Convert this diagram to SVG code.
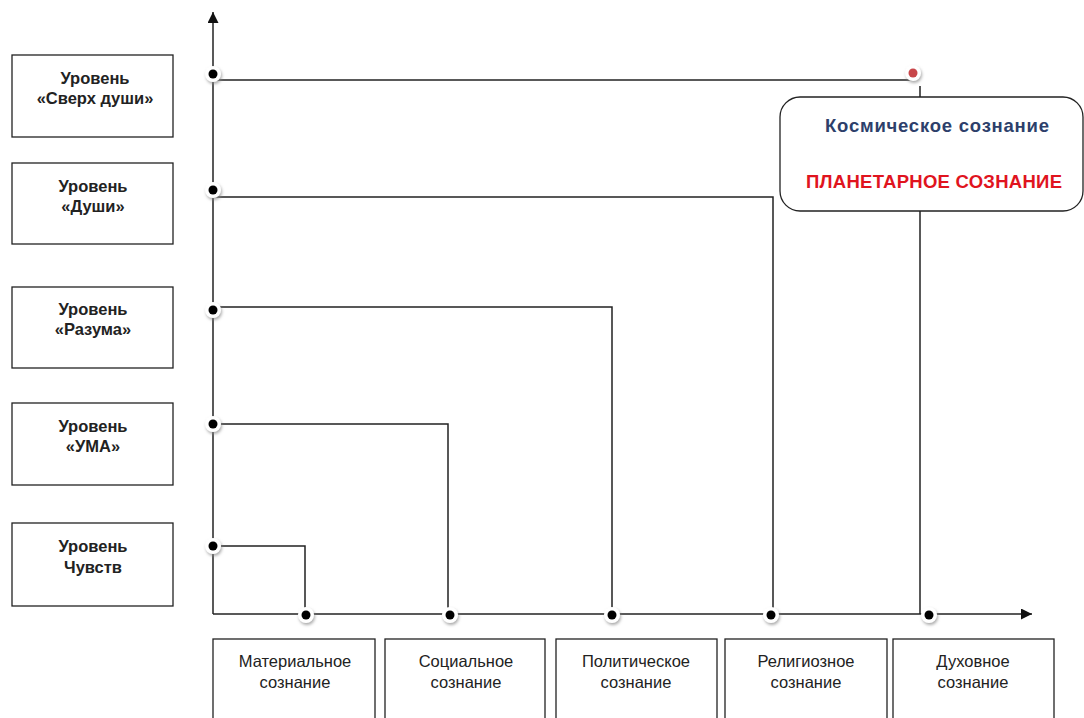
<svg xmlns="http://www.w3.org/2000/svg" width="1084" height="718" viewBox="0 0 1084 718">
<style>
.box{fill:#fff;stroke:#222;stroke-width:1.3}
.lt{font-family:"Liberation Sans",Arial,sans-serif;font-size:16.5px;font-weight:bold;fill:#222;text-anchor:middle}
.bt{font-family:"Liberation Sans",Arial,sans-serif;font-size:16.5px;fill:#222;text-anchor:middle}
.ln{fill:none;stroke:#222;stroke-width:1.5}
.ct{font-family:"Liberation Sans",Arial,sans-serif;font-size:18.5px;font-weight:bold;text-anchor:middle}
</style>
<defs>
<marker id="ah" viewBox="0 0 10 10" refX="10" refY="5" markerWidth="11" markerHeight="11" markerUnits="userSpaceOnUse" orient="auto">
<path d="M0,0 L10,5 L0,10 z" fill="#111"/>
</marker>
<filter id="sh" x="-50%" y="-50%" width="200%" height="200%">
<feGaussianBlur in="SourceAlpha" stdDeviation="1.5"/>
<feOffset dx="1" dy="2" result="b"/>
<feFlood flood-color="#888" flood-opacity="0.7"/>
<feComposite in2="b" operator="in"/>
<feMerge><feMergeNode/><feMergeNode in="SourceGraphic"/></feMerge>
</filter>
<g id="dot"><circle r="8" fill="#fff" filter="url(#sh)"/><circle r="4.5" fill="#000"/></g>
<g id="rdot"><circle r="8" fill="#fff" filter="url(#sh)"/><circle r="4.5" fill="#c8464a"/></g>
</defs>
<g id="connectors">
<line class="ln" x1="213" y1="614" x2="213" y2="12" marker-end="url(#ah)"/>
<line class="ln" x1="213" y1="614" x2="1032" y2="614" marker-end="url(#ah)"/>
<polyline class="ln" points="213,80 913,80"/>
<polyline class="ln" points="920,86 920,97"/>
<polyline class="ln" points="920,211 920,614"/>
<polyline class="ln" points="213,197 773,197 773,614"/>
<polyline class="ln" points="213,307 612,307 612,614"/>
<polyline class="ln" points="213,424 448,424 448,614"/>
<polyline class="ln" points="213,546 305,546 305,614"/>
</g>
<g id="dots">
<use href="#dot" x="213" y="74"/>
<use href="#dot" x="213" y="190"/>
<use href="#dot" x="213" y="310"/>
<use href="#dot" x="213" y="424"/>
<use href="#dot" x="213" y="546"/>
<use href="#dot" x="306" y="615"/>
<use href="#dot" x="450" y="615"/>
<use href="#dot" x="612" y="615"/>
<use href="#dot" x="771" y="615"/>
<use href="#dot" x="929" y="615"/>
<use href="#rdot" x="913" y="73"/>
</g>
<g id="level1"><rect class="box" x="12" y="55" width="161" height="82"/><text class="lt" x="95" y="84">Уровень</text><text class="lt" x="95" y="104">«Сверх души»</text></g>
<g id="level2"><rect class="box" x="12" y="163" width="161" height="81"/><text class="lt" x="93" y="192">Уровень</text><text class="lt" x="93" y="212">«Души»</text></g>
<g id="level3"><rect class="box" x="12" y="287" width="161" height="81"/><text class="lt" x="93" y="315">Уровень</text><text class="lt" x="93" y="335">«Разума»</text></g>
<g id="level4"><rect class="box" x="12" y="403" width="161" height="82"/><text class="lt" x="93" y="432">Уровень</text><text class="lt" x="93" y="452">«УМА»</text></g>
<g id="level5"><rect class="box" x="12" y="523" width="161" height="83"/><text class="lt" x="93" y="552">Уровень</text><text class="lt" x="93" y="573">Чувств</text></g>
<g id="cosmic"><rect x="780" y="97" width="303" height="114" rx="20" fill="#fff" stroke="#222" stroke-width="1.3"/>
<text class="ct" x="937" y="132" fill="#2d3f6b" textLength="224">Космическое сознание</text>
<text class="ct" x="934" y="188" fill="#e0141e" textLength="256">ПЛАНЕТАРНОЕ СОЗНАНИЕ</text></g>
<g id="c1"><rect class="box" x="213" y="639" width="162" height="85"/><text class="bt" x="295" y="667">Материальное</text><text class="bt" x="295" y="688">сознание</text></g>
<g id="c2"><rect class="box" x="385" y="639" width="160" height="85"/><text class="bt" x="466" y="667">Социальное</text><text class="bt" x="466" y="688">сознание</text></g>
<g id="c3"><rect class="box" x="556" y="639" width="161" height="85"/><text class="bt" x="636" y="667">Политическое</text><text class="bt" x="636" y="688">сознание</text></g>
<g id="c4"><rect class="box" x="725" y="639" width="162" height="85"/><text class="bt" x="806" y="667">Религиозное</text><text class="bt" x="806" y="688">сознание</text></g>
<g id="c5"><rect class="box" x="893" y="639" width="161" height="85"/><text class="bt" x="973" y="667">Духовное</text><text class="bt" x="973" y="688">сознание</text></g>
</svg>
